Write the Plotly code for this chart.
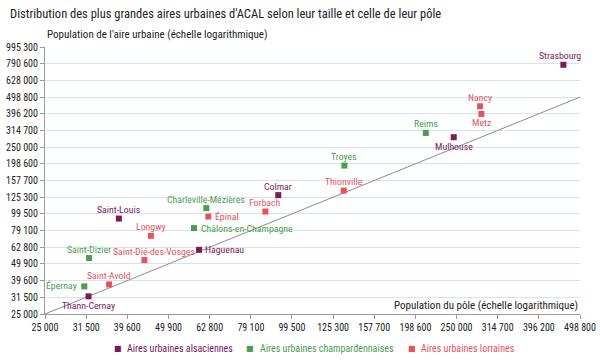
import math
import plotly.graph_objects as go

# --- data (pole population, aire urbaine population) ---
alsace_names = ["Strasbourg", "Mulhouse", "Colmar", "Haguenau", "Saint-Louis", "Thann-Cernay"]
alsace_pole = [454500, 246100, 92200, 59200, 37800, 31900]
alsace_aire = [779000, 286600, 128900, 60600, 93300, 31900]

champ_names = ["Reims", "Troyes", "Charleville-Mézières", "Châlons-en-Champagne", "Saint-Dizier", "Épernay"]
champ_pole = [210500, 133500, 61650, 57550, 32000, 31150]
champ_aire = [304000, 193800, 107700, 81800, 54100, 36600]

lor_names = ["Nancy", "Metz", "Thionville", "Forbach", "Épinal", "Longwy", "Saint-Dié-des-Vosges", "Saint-Avold"]
lor_pole = [285200, 287300, 133000, 85800, 62350, 45200, 43600, 35800]
lor_aire = [439300, 395100, 137200, 102800, 95950, 73550, 52600, 37600]

series_labels = ["Aires urbaines alsaciennes", "Aires urbaines champardennaises", "Aires urbaines lorraines"]

tick_vals = [25000, 31500, 39600, 49900, 62800, 79100, 99500, 125300, 157700, 198600,
             250000, 314700, 396200, 498800, 628000, 790600, 995300]
tick_text = [f"{v:,}".replace(",", " ") for v in tick_vals]
x_min, x_max = 25000, 498800
y_min, y_max = 25000, 995300

# --- styling ---
FONT = "Roboto Condensed, Liberation Sans Narrow, Liberation Sans, Arial, sans-serif"
C_ALS = "#7a1b5c"
C_CHA = "#4c9d50"
C_LOR = "#e5535d"
LABEL_SIZE = 9.8
# label placement: (xanchor, xshift, yshift); default is above the marker
DEFAULT_LABEL = ("center", 0, 9)
LABEL_PLACE = {
    "Mulhouse": ("center", 0, -9),
    "Metz": ("center", 0, -8.5),
    "Thann-Cernay": ("center", 0, -9),
    "Haguenau": ("left", 4, 0),
    "Châlons-en-Champagne": ("left", 5, 0),
    "Épinal": ("left", 5, 0),
    "Épernay": ("right", -5, 1),
    "Saint-Dié-des-Vosges": ("center", 10, 9),
    "Strasbourg": ("center", -3, 9),
}

fig = go.Figure()

# diagonal y = x
fig.add_trace(go.Scatter(x=[x_min, x_max], y=[x_min, x_max], mode="lines",
                         line=dict(color="#8c8c8c", width=1), showlegend=False,
                         hoverinfo="skip"))

groups = [
    (alsace_names, alsace_pole, alsace_aire, C_ALS, series_labels[0]),
    (champ_names, champ_pole, champ_aire, C_CHA, series_labels[1]),
    (lor_names, lor_pole, lor_aire, C_LOR, series_labels[2]),
]
for names, xs, ys, col, lab in groups:
    fig.add_trace(go.Scatter(
        x=xs, y=ys, mode="markers", text=names,
        marker=dict(symbol="square", size=6, color=col, line=dict(width=0)),
        name=lab, cliponaxis=False, showlegend=False,
    ))
    for n, xv, yv in zip(names, xs, ys):
        xa, xsft, ysft = LABEL_PLACE.get(n, DEFAULT_LABEL)
        fig.add_annotation(x=math.log10(xv), y=math.log10(yv), xref="x", yref="y",
                           text=n, showarrow=False, xanchor=xa, yanchor="middle",
                           xshift=xsft, yshift=ysft,
                           font=dict(size=LABEL_SIZE, family=FONT, color=col))

fig.update_layout(
    width=600, height=361,
    margin=dict(l=45, r=20, t=47, b=47, autoexpand=False),
    paper_bgcolor="white", plot_bgcolor="white",
    font=dict(family=FONT, size=10, color="#222222"),
    title=dict(text="Distribution des plus grandes aires urbaines d'ACAL selon leur taille et celle de leur pôle",
               x=10 / 600, xanchor="left", y=0.975, yanchor="top",
               font=dict(size=12.5, family=FONT, color="#222222")),
    showlegend=False,
)

fig.update_xaxes(type="log", range=[math.log10(x_min), math.log10(x_max)],
                 tickvals=tick_vals[:14], ticktext=tick_text[:14], tickangle=0,
                 showgrid=False, showline=True, linecolor="#9a9a9a", linewidth=1,
                 ticks="outside", ticklen=4, tickcolor="#9a9a9a",
                 tickfont=dict(size=10, family=FONT, color="#222222"), zeroline=False)
fig.update_yaxes(type="log", range=[math.log10(y_min), math.log10(y_max)],
                 tickvals=tick_vals, ticktext=tick_text,
                 showgrid=True, gridcolor="#d3e4f3", gridwidth=1,
                 showline=True, linecolor="#9a9a9a", linewidth=1,
                 ticks="outside", ticklen=4, tickcolor="#9a9a9a",
                 tickfont=dict(size=10, family=FONT, color="#222222"), zeroline=False)

fig.add_annotation(text="Population de l'aire urbaine (échelle logarithmique)",
                   xref="paper", yref="paper", x=0.0, y=1.0, xanchor="left", yanchor="bottom",
                   yshift=4, showarrow=False, font=dict(size=11, family=FONT, color="#222222"))
fig.add_annotation(text="Population du pôle (échelle logarithmique)",
                   xref="paper", yref="paper", x=1.0, y=0.0, xanchor="right", yanchor="bottom",
                   yshift=0, showarrow=False, font=dict(size=11, family=FONT, color="#222222"))

# legend (drawn as text entries below the axis)
leg_sq_x = [118, 250, 412]
leg_tx_x = [125, 258, 419]
leg_y = -0.13
for (names, xs, ys, col, lab), sx, tx in zip(groups, leg_sq_x, leg_tx_x):
    fig.add_annotation(text="■", xref="paper", yref="paper", x=(sx - 45) / 535, y=leg_y,
                       xanchor="center", yanchor="middle", showarrow=False,
                       font=dict(size=8, family="DejaVu Sans", color=col))
    fig.add_annotation(text=lab, xref="paper", yref="paper", x=(tx - 45) / 535, y=leg_y,
                       xanchor="left", yanchor="middle", showarrow=False,
                       font=dict(size=10, family=FONT, color=col))

fig.write_html("out.html", config={"displayModeBar": False},
               post_script="document.body.style.margin='0';")
